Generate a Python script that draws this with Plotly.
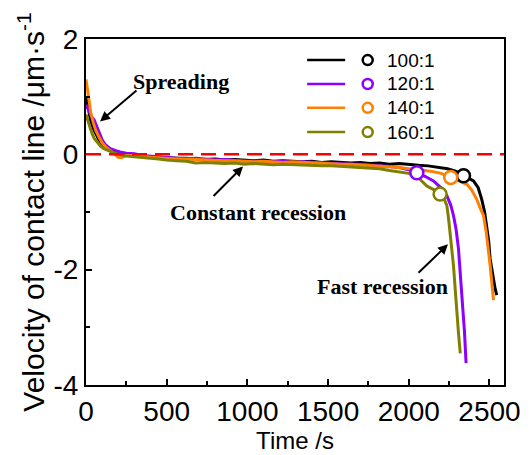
import plotly.graph_objects as go

# ---------------- data ----------------
t_100 = [0, 10, 20, 30, 45, 60, 80, 100, 125, 150, 180, 210, 250, 300, 350, 400, 450, 500, 560, 620,
         680, 740, 800, 860, 920, 980, 1040, 1100, 1160, 1220, 1280, 1340, 1400, 1460, 1520, 1580,
         1640, 1700, 1760, 1820, 1880, 1940, 2000, 2060, 2120, 2180, 2240, 2290, 2339, 2370, 2401,
         2430, 2452, 2470, 2483, 2495, 2504, 2515, 2525, 2535, 2545]
v_100 = [1.0, 0.85, 0.7, 0.57, 0.45, 0.35, 0.25, 0.18, 0.12, 0.08, 0.05, 0.03, 0.0, -0.02, -0.03,
         -0.04, -0.05, -0.06, -0.07, -0.07, -0.08, -0.09, -0.08, -0.1, -0.09, -0.1, -0.11, -0.1,
         -0.12, -0.11, -0.12, -0.13, -0.12, -0.14, -0.13, -0.14, -0.15, -0.14, -0.16, -0.15, -0.17,
         -0.16, -0.18, -0.19, -0.2, -0.22, -0.25, -0.29, -0.37, -0.41, -0.46, -0.58, -0.78, -1.0,
         -1.24, -1.5, -1.81, -2.0, -2.21, -2.33, -2.44]

t_120 = [0, 10, 20, 35, 50, 65, 80, 100, 120, 150, 180, 210, 250, 300, 350, 400, 450, 500, 560,
         620, 680, 740, 800, 860, 920, 980, 1040, 1100, 1160, 1220, 1280, 1340, 1400, 1460, 1520,
         1580, 1640, 1700, 1760, 1820, 1880, 1940, 2000, 2050, 2100, 2153, 2200, 2236, 2260, 2277,
         2293, 2308, 2320, 2329, 2338, 2345, 2351, 2355]
v_120 = [0.86, 0.8, 0.72, 0.65, 0.6, 0.5, 0.38, 0.25, 0.17, 0.1, 0.07, 0.04, 0.02, 0.01, -0.02,
         -0.03, -0.05, -0.06, -0.07, -0.08, -0.07, -0.09, -0.1, -0.09, -0.11, -0.12, -0.11, -0.12,
         -0.13, -0.12, -0.14, -0.13, -0.14, -0.15, -0.15, -0.16, -0.17, -0.17, -0.18, -0.19, -0.21,
         -0.23, -0.27, -0.32, -0.38, -0.46, -0.58, -0.72, -0.88, -1.06, -1.3, -1.64, -2.05, -2.5,
         -2.8, -3.07, -3.35, -3.62]

t_140 = [0, 10, 20, 30, 45, 60, 80, 100, 125, 150, 180, 200, 220, 250, 300, 350, 400, 450, 500,
         560, 620, 680, 740, 800, 860, 920, 980, 1040, 1100, 1160, 1220, 1280, 1340, 1400, 1460,
         1520, 1580, 1640, 1700, 1760, 1820, 1880, 1940, 2000, 2050, 2100, 2150, 2200, 2260, 2310,
         2360, 2390, 2421, 2445, 2463, 2480, 2494, 2505, 2514, 2520, 2525]
v_140 = [1.3, 1.1, 0.9, 0.72, 0.55, 0.42, 0.3, 0.2, 0.12, 0.06, 0.0, -0.05, -0.06, -0.02, -0.02,
         -0.04, -0.05, -0.06, -0.07, -0.08, -0.08, -0.09, -0.1, -0.1, -0.11, -0.11, -0.12, -0.13,
         -0.12, -0.13, -0.14, -0.13, -0.14, -0.15, -0.15, -0.16, -0.17, -0.17, -0.18, -0.19, -0.2,
         -0.21, -0.23, -0.25, -0.26, -0.28, -0.3, -0.33, -0.4, -0.46, -0.52, -0.62, -0.78, -0.95,
         -1.06, -1.35, -1.64, -1.95, -2.21, -2.38, -2.53]

t_160 = [0, 10, 20, 35, 50, 70, 90, 110, 140, 170, 200, 250, 300, 350, 400, 450, 500, 560, 620,
         680, 740, 800, 860, 920, 980, 1040, 1100, 1160, 1220, 1280, 1340, 1400, 1460, 1520, 1580,
         1640, 1700, 1760, 1820, 1880, 1940, 2000, 2050, 2112, 2160, 2194, 2220, 2236, 2246, 2256,
         2266, 2277, 2288, 2298, 2308, 2319]
v_160 = [0.69, 0.6, 0.5, 0.38, 0.28, 0.2, 0.14, 0.1, 0.06, 0.03, 0.0, -0.03, -0.04, -0.06, -0.07,
         -0.08, -0.1, -0.11, -0.12, -0.15, -0.14, -0.15, -0.16, -0.15, -0.17, -0.16, -0.17, -0.18,
         -0.17, -0.18, -0.19, -0.19, -0.2, -0.2, -0.21, -0.22, -0.23, -0.24, -0.25, -0.28, -0.3,
         -0.33, -0.38, -0.55, -0.62, -0.69, -0.78, -0.89, -1.1, -1.35, -1.62, -1.93, -2.35, -2.79,
         -3.1, -3.45]

labels = ["100:1", "120:1", "140:1", "160:1"]
colors = ["#000000", "#8B00FF", "#FF7F00", "#808000"]
series_t = [t_100, t_120, t_140, t_160]
series_v = [v_100, v_120, v_140, v_160]

# transition points (open circles)
mark_t = [2339, 2050, 2260, 2194]
mark_v = [-0.37, -0.32, -0.40, -0.69]

x_range = [0, 2590]
y_range = [-4, 2]
x_ticks = [0, 500, 1000, 1500, 2000, 2500]
y_ticks = [-4, -2, 0, 2]
y_ticktext = ["-4", "-2", "0", "2"]

# ---------------- figure ----------------
fig = go.Figure()

for t, v, c, lab in zip(series_t, series_v, colors, labels):
    fig.add_trace(go.Scatter(x=t, y=v, mode="lines", name=lab,
                             line=dict(color=c, width=3), showlegend=False))

for tm, vm, c, lab in zip(mark_t, mark_v, colors, labels):
    fig.add_trace(go.Scatter(x=[tm], y=[vm], mode="markers", name=lab, showlegend=False,
                             marker=dict(symbol="circle", size=13, color="white",
                                         line=dict(color=c, width=2.5))))

shapes = []
# zero reference line
shapes.append(dict(type="line", xref="paper", yref="y", x0=0, x1=1, y0=0, y1=0,
                   line=dict(color="#FF0000", width=2.5, dash="15px,8px"), layer="above"))

# custom legend
leg_y = [0.939, 0.870, 0.801, 0.731]
annotations = []
for yy, c, lab in zip(leg_y, colors, labels):
    shapes.append(dict(type="line", xref="paper", yref="paper", x0=0.529, x1=0.620, y0=yy, y1=yy,
                       line=dict(color=c, width=2.5)))
    shapes.append(dict(type="circle", xref="paper", yref="paper", xsizemode="pixel",
                       ysizemode="pixel", xanchor=0.674, yanchor=yy, x0=-5, x1=5, y0=-5, y1=5,
                       line=dict(color=c, width=2.5), fillcolor="white"))
    annotations.append(dict(xref="paper", yref="paper", x=0.715, y=yy, text=lab, showarrow=False,
                            xanchor="left", yanchor="middle",
                            font=dict(family="Liberation Sans, Arial", size=19, color="black")))

serif = dict(family="Liberation Serif, Times New Roman", size=22, color="black")
annotations += [
    dict(x=589, y=1.27, text="<b>Spreading</b>", showarrow=False, font=serif),
    dict(x=1066, y=-1.0, text="<b>Constant recession</b>", showarrow=False, font=serif),
    dict(x=1840, y=-2.3, text="<b>Fast recession</b>", showarrow=False, font=serif),
    dict(x=87, y=0.57, ax=322, ay=1.13, axref="x", ayref="y", text="", showarrow=True,
         arrowhead=2, arrowsize=1, arrowwidth=2, arrowcolor="black"),
    dict(x=973, y=-0.21, ax=781, ay=-0.75, axref="x", ayref="y", text="", showarrow=True,
         arrowhead=2, arrowsize=1, arrowwidth=2, arrowcolor="black"),
    dict(x=2243, y=-1.56, ax=2051, ay=-2.08, axref="x", ayref="y", text="", showarrow=True,
         arrowhead=2, arrowsize=1, arrowwidth=2, arrowcolor="black"),
]

axis_font = dict(family="Liberation Sans, Arial", size=28, color="black")
fig.update_layout(
    width=523, height=447,
    margin=dict(l=78, r=27, t=31, b=70),
    paper_bgcolor="white", plot_bgcolor="white",
    shapes=shapes, annotations=annotations,
    font=dict(family="Liberation Sans, Arial", color="black"),
    xaxis=dict(range=x_range, tickmode="array", tickvals=x_ticks, automargin=False,
               ticks="inside", ticklen=6, tickwidth=2, tickcolor="black",
               minor=dict(tickvals=[250, 750, 1250, 1750, 2250], ticks="inside", ticklen=4,
                          tickwidth=2, tickcolor="black"),
               showline=True, linecolor="black", linewidth=2, mirror=True,
               showgrid=False, zeroline=False, tickfont=axis_font,
               title=dict(text="Time /s", font=dict(family="Liberation Sans, Arial", size=24),
                          standoff=0)),
    yaxis=dict(range=y_range, tickmode="array", tickvals=y_ticks, ticktext=y_ticktext,
               automargin=False,
               ticks="inside", ticklen=6, tickwidth=2, tickcolor="black",
               minor=dict(tickvals=[-3, -1, 1], ticks="inside", ticklen=4, tickwidth=2,
                          tickcolor="black"),
               showline=True, linecolor="black", linewidth=2, mirror=True,
               showgrid=False, zeroline=False, tickfont=axis_font,
               title=dict(text="Velocity of contact line /μm·s<sup>-1</sup>",
                          font=dict(family="Liberation Sans, Arial", size=30), standoff=0)),
)

fig.write_html("out.html")
